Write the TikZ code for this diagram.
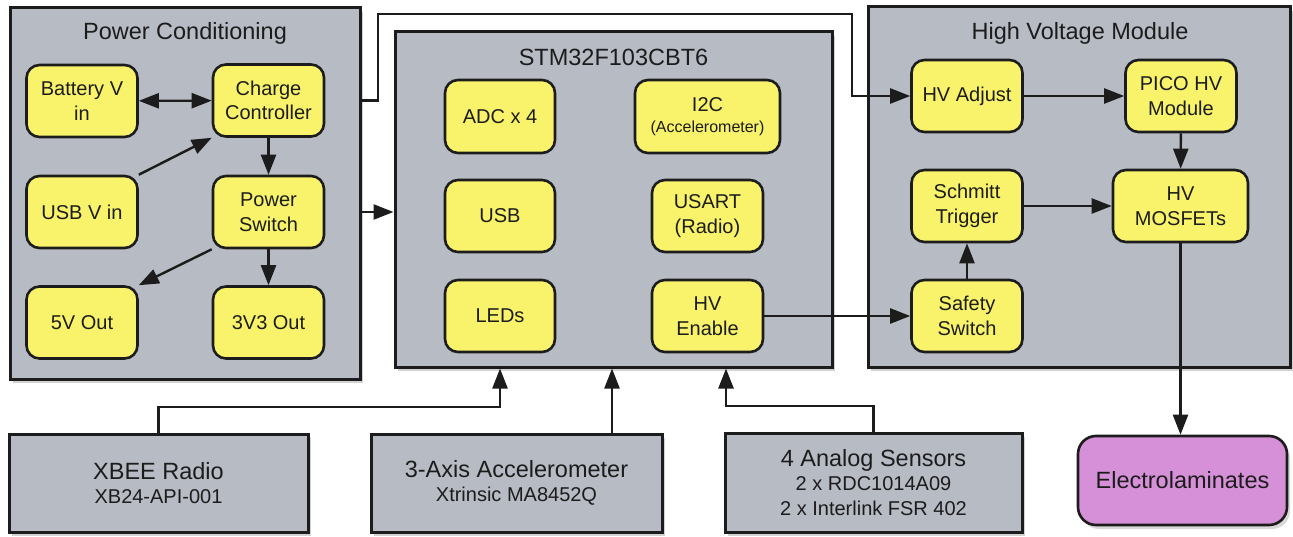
\documentclass[tikz,border=0pt]{standalone}
\usepackage{fontspec}
\setmainfont{Liberation Sans}
\usetikzlibrary{arrows.meta,positioning,calc,shadows}
\definecolor{Panel}{HTML}{B7BBC4}
\definecolor{Lemon}{HTML}{F8F36A}
\definecolor{Orchid}{HTML}{D690D8}
\definecolor{Ink}{HTML}{1C1C1C}
\newcommand{\bigsz}{\fontsize{23.5}{28}\selectfont}
\newcommand{\midsz}{\fontsize{20}{24.5}\selectfont}
\newcommand{\smsz}{\fontsize{16}{19}\selectfont}

\begin{document}
\begin{tikzpicture}[x=1pt,y=-1pt,>={Triangle[length=20pt,width=15pt]},
    panel/.style={draw=Ink,fill=Panel,line width=3pt,
      drop shadow={opacity=0.35,shadow xshift=3pt,shadow yshift=-4pt}},
    blk/.style={draw=Ink,fill=Lemon,line width=2.6pt,rounded corners=13pt,
      minimum width=111pt,minimum height=72pt,inner sep=2pt,align=center,
      text=Ink,font=\midsz},
    ext/.style={panel,minimum height=98pt,inner sep=2pt,align=center,text=Ink,font=\midsz},
    ttl/.style={text=Ink,font=\bigsz,inner sep=0pt},
    wire/.style={draw=Ink,line width=2.4pt}]
  \useasboundingbox[fill=white] (0,0) rectangle (1293,537);

  % three main panels
  \node[panel,minimum width=350pt,minimum height=371pt] (pwr) at (185,193.5) {};
  \node[panel,minimum width=437pt,minimum height=335pt] (mcu) at (613.5,199.5) {};
  \node[panel,minimum width=422pt,minimum height=360pt] (hvm) at (1079,187) {};
  \node[ttl] (pwrT) at (185,33) {Power Conditioning};
  \node[ttl] (mcuT) at (613.5,57) {STM32F103CBT6};
  \node[ttl] (hvmT) at (1080,33) {High Voltage Module};

  % power conditioning
  \node[blk] (bat) at (82,101) {Battery V\\in};
  \node[blk] (chg) at (268.5,100.5) {Charge\\Controller};
  \node[blk] (usbv) at (82,212) {USB V in};
  \node[blk] (psw) at (268.5,212) {Power\\Switch};
  \node[blk] (v5) at (82,322.5) {5V Out};
  \node[blk] (v33) at (268.5,322.5) {3V3 Out};

  % microcontroller
  \node[blk,minimum width=110pt,minimum height=73pt] (adc) at (500,116.5) {ADC x 4};
  \node[blk,minimum width=145pt,minimum height=73pt] (i2c) at (707.5,116.5) {I2C\\[-3pt]{\smsz(Accelerometer)}};
  \node[blk,minimum width=110pt] (usb) at (500,216) {USB};
  \node[blk] (usart) at (707.5,216) {USART\\(Radio)};
  \node[blk,minimum width=110pt] (led) at (500,316) {LEDs};
  \node[blk] (hven) at (707.5,316) {HV\\Enable};

  % high voltage
  \node[blk] (hvadj) at (967,96) {HV Adjust};
  \node[blk] (pico) at (1181,96) {PICO HV\\Module};
  \node[blk] (smt) at (967,206) {Schmitt\\Trigger};
  \node[blk,minimum width=135pt] (mosf) at (1180.5,206) {HV\\MOSFETs};
  \node[blk] (safe) at (967,316) {Safety\\Switch};

  % outside parts
  \node[ext,minimum width=299pt] (xbee) at (158.5,483) {{\bigsz XBEE Radio}\\XB24-API-001};
  \node[ext,minimum width=291pt] (acc) at (516.5,483) {{\bigsz 3-Axis Accelerometer}\\Xtrinsic MA8452Q};
  \node[ext,minimum width=297pt,minimum height=99pt] (ana) at (873.5,482.5)
    {{\bigsz 4 Analog Sensors}\\2 x RDC1014A09\\2 x Interlink FSR 402};
  \node[blk,fill=Orchid,minimum width=209pt,minimum height=89pt,rounded corners=18pt,
    font=\bigsz,drop shadow={opacity=0.3,shadow xshift=3pt,shadow yshift=-4pt}] (ela) at (1182.5,480.5) {Electrolaminates};

  \coordinate (up1) at (378,14);
  \coordinate (up2) at (852,14);
  \coordinate (xbk) at (500,407);
  \coordinate (ank) at (726,406);
  \coordinate (acco) at (612,434);

  \draw[wire,<->] (bat) -- (chg);
  \draw[wire,->] (usbv.north east) -- (chg.south west);
  \draw[wire,->] (chg) -- (psw);
  \draw[wire,->] (psw.south west) -- (v5.north east);
  \draw[wire,->] (psw) -- (v33);
  \draw[wire,->] (pwr.east |- psw) -- (mcu.west |- psw);
  \draw[wire,->] (pwr.east |- chg) -| (up1) -- (up2) |- (hvadj.west);
  \draw[wire,->] (hven) -- (safe);
  \draw[wire,->] (hvadj) -- (pico);
  \draw[wire,->] (pico) -- (mosf);
  \draw[wire,->] (smt) -- (mosf);
  \draw[wire,->] (safe) -- (smt);
  \draw[wire,->] (mosf.south) -- (mosf.south |- ela.north);
  \draw[wire,->] (xbee.north) |- (xbk) -- (xbk |- mcu.south);
  \draw[wire,->] (acco) -- (acco |- mcu.south);
  \draw[wire,->] (ana.north) |- (ank) -- (ank |- mcu.south);
\end{tikzpicture}
\end{document}
